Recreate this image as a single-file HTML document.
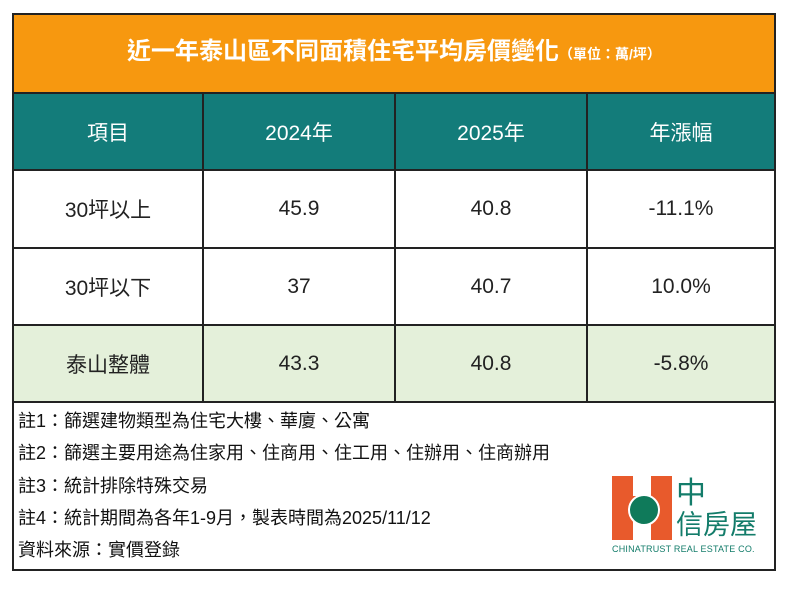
<!DOCTYPE html>
<html><head><meta charset="utf-8"><style>
body{margin:0;width:800px;height:600px;background:#fff;position:relative;font-family:"Liberation Sans","Noto Sans CJK TC",sans-serif;overflow:hidden}
.box{position:absolute;left:12px;top:13px;width:764px;height:558px;border:2px solid #222;box-sizing:border-box}
.title{position:absolute;left:0;top:0;width:760px;height:77px;background:#f7980f;color:#fff;font-size:24px;font-weight:bold;text-align:center;line-height:74px}
.title small{font-size:14px}
.row{position:absolute;left:0;width:760px;display:flex;border-top:2px solid #222;box-sizing:border-box}
.row div{border-right:2px solid #222;box-sizing:border-box;display:flex;align-items:center;justify-content:center;font-size:21px;color:#222}
.row div:last-child{border-right:none}
.c1{width:190px}.c2{width:192px}.c3{width:192px}.c4{width:186px}
.hdr{top:77px;height:77px;background:#137c7a}
.hdr div{color:#fff !important}
.notes{position:absolute;left:4px;top:390px;font-size:18px;color:#111;line-height:32.3px;white-space:nowrap}
</style></head><body>
<div class="box">
<div class="title">近一年泰山區不同面積住宅平均房價變化<small>（單位：萬/坪）</small></div>
<div class="row hdr"><div class="c1">項目</div><div class="c2">2024年</div><div class="c3">2025年</div><div class="c4">年漲幅</div></div>
<div class="row" style="top:154px;height:78px"><div class="c1">30坪以上</div><div class="c2">45.9</div><div class="c3">40.8</div><div class="c4">-11.1%</div></div>
<div class="row" style="top:232px;height:77px"><div class="c1">30坪以下</div><div class="c2">37</div><div class="c3">40.7</div><div class="c4">10.0%</div></div>
<div class="row" style="top:309px;height:79px;background:#e4f0da;border-bottom:2px solid #222"><div class="c1">泰山整體</div><div class="c2">43.3</div><div class="c3">40.8</div><div class="c4">-5.8%</div></div>
<div class="notes">註1：篩選建物類型為住宅大樓、華廈、公寓<br>註2：篩選主要用途為住家用、住商用、住工用、住辦用、住商辦用<br>註3：統計排除特殊交易<br>註4：統計期間為各年1-9月，製表時間為2025/11/12<br>資料來源：實價登錄</div>
</div>
<div style="position:absolute;left:612px;top:476px;width:60px;height:64px;background:#e85a2c"></div>
<div style="position:absolute;left:633px;top:476px;width:18px;height:20px;background:#fff"></div>
<div style="position:absolute;left:633px;top:520px;width:18px;height:20px;background:#fff"></div>
<div style="position:absolute;left:628px;top:494px;width:28px;height:28px;border-radius:50%;background:#0f7a5a;border:2px solid #fff"></div>
<div style="position:absolute;left:676px;top:478px;font-size:30px;color:#137c6a;line-height:32px">中</div>
<div style="position:absolute;left:676px;top:510px;font-size:27px;color:#137c6a;line-height:30px">信房屋</div>
<div style="position:absolute;left:612px;top:544px;font-size:9px;color:#137c6a;letter-spacing:0.2px">CHINATRUST REAL ESTATE CO.</div>
</body></html>
